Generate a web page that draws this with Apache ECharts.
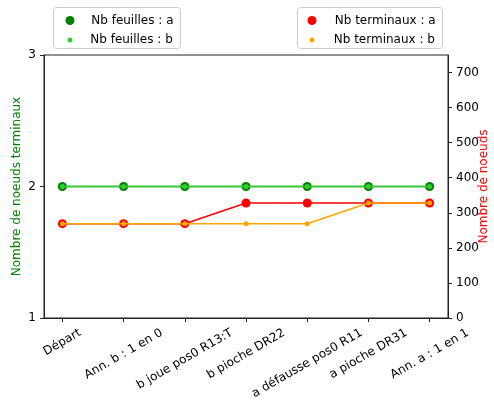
<!DOCTYPE html>
<html>
<head>
<meta charset="utf-8">
<script src="https://cdn.jsdelivr.net/npm/echarts@6/dist/echarts.min.js"></script>
<style>html,body{margin:0;padding:0;background:#fff}#c{width:494px;height:401px}</style>
</head>
<body>
<div id="c"></div>
<script>
const categories = ["Départ", "Ann. b : 1 en 0", "b joue pos0 R13:T", "b pioche DR22", "a défausse pos0 R11", "a pioche DR31", "Ann. a : 1 en 1"];
const feuillesA = [2, 2, 2, 2, 2, 2, 2];
const feuillesB = [2, 2, 2, 2, 2, 2, 2];
const terminauxA = [269, 269, 269, 328, 328, 328, 328];
const terminauxB = [269, 269, 269, 269, 269, 328, 328];
const leftTicks = [1, 2, 3];
const rightTicks = [0, 100, 200, 300, 400, 500, 600, 700];

const FONT = '"DejaVu Sans", sans-serif';
const FS = 12;
const LH = 14;

const ctx = document.createElement('canvas').getContext('2d');
ctx.font = FS + 'px ' + FONT;
const s30 = Math.sin(Math.PI / 6), c30 = Math.cos(Math.PI / 6);
const rich = {};
categories.forEach((c, i) => {
  const L = ctx.measureText(c).width;
  const D = (L * s30 + LH * c30) / 2;
  rich['l' + i] = {
    fontSize: FS, fontFamily: FONT, color: '#000', lineHeight: LH,
    padding: [2 * D * c30, 2 * D * s30, 0, 0]
  };
});

const idx = categories.map((c, i) => i);
const toPts = arr => arr.map((v, i) => [i, v]);
const legText = {fontSize: FS, fontFamily: FONT, color: '#000'};

// plot frame and inner (tick) span
const G = {left: 44, right: 46, top: 55, bottom: 83};
const plotW = 494 - G.left - G.right;
const XMIN = -0.3, XMAX = 6.3;
const innerLeft = G.left + plotW * (0 - XMIN) / (XMAX - XMIN);
const innerRight = G.right + plotW * (XMAX - (categories.length - 1)) / (XMAX - XMIN);

const chart = echarts.init(document.getElementById('c'), null, {renderer: 'canvas'});
chart.setOption({
  animation: false,
  backgroundColor: '#fff',
  textStyle: {fontFamily: FONT},
  grid: [
    {left: G.left, right: G.right, top: G.top, bottom: G.bottom, outerBoundsMode: 'none', containLabel: false, show: true, borderColor: '#222', borderWidth: 1, backgroundColor: 'transparent'},
    {left: innerLeft, right: innerRight, top: G.top, bottom: G.bottom, outerBoundsMode: 'none', containLabel: false, show: false}
  ],
  graphic: [
    {type: 'rect', z: 0, shape: {x: 53.5, y: 7.5, width: 127, height: 41, r: 3}, style: {fill: 'rgba(255,255,255,0.8)', stroke: '#cccccc', lineWidth: 1}},
    {type: 'rect', z: 0, shape: {x: 297.5, y: 7.5, width: 145, height: 41, r: 3}, style: {fill: 'rgba(255,255,255,0.8)', stroke: '#cccccc', lineWidth: 1}}
  ],
  legend: [
    {data: [{name: 'Nb feuilles : a', icon: 'circle'}], left: 65.5, top: 14.5, padding: 0, itemWidth: 32.5, itemHeight: 9, textStyle: legText, z: 10},
    {data: [{name: 'Nb feuilles : b', icon: 'circle'}], left: 67.5, top: 34, padding: 0, itemWidth: 30.5, itemHeight: 5, textStyle: legText, z: 10},
    {data: [{name: 'Nb terminaux : a', icon: 'circle'}], left: 307.5, top: 14.5, padding: 0, itemWidth: 35.5, itemHeight: 9, textStyle: legText, z: 10},
    {data: [{name: 'Nb terminaux : b', icon: 'circle'}], left: 309.5, top: 34, padding: 0, itemWidth: 33.5, itemHeight: 5, textStyle: legText, z: 10}
  ],
  xAxis: [
    {
      type: 'value', gridIndex: 0, min: XMIN, max: XMAX,
      splitLine: {show: false},
      axisLine: {show: true, onZero: false, lineStyle: {color: '#222', width: 1}},
      axisTick: {show: true, length: 4, customValues: idx, lineStyle: {color: '#222'}},
      axisLabel: {show: false}
    },
    {
      type: 'category', gridIndex: 1, data: categories, boundaryGap: false,
      axisLine: {show: false}, axisTick: {show: false}, splitLine: {show: false},
      axisLabel: {
        interval: 0, rotate: 30, align: 'center', verticalAlign: 'middle', margin: 8,
        formatter: (v, i) => '{l' + i + '|' + v + '}',
        rich: rich
      }
    }
  ],
  yAxis: [
    {
      type: 'value', gridIndex: 0, position: 'left', min: 1, max: 3, interval: 1,
      name: 'Nombre de noeuds terminaux', nameLocation: 'middle', nameGap: 21, nameRotate: 90, nameMoveOverlap: false,
      nameTextStyle: {color: 'green', fontSize: FS, fontFamily: FONT},
      splitLine: {show: false},
      axisLine: {show: true, onZero: false, lineStyle: {color: '#222'}},
      axisTick: {show: true, length: 4, customValues: leftTicks, lineStyle: {color: '#222'}},
      axisLabel: {customValues: leftTicks, margin: 8, color: '#000', fontSize: FS, fontFamily: FONT}
    },
    {
      type: 'value', gridIndex: 0, position: 'right', min: 0, max: 750,
      name: 'Nombre de noeuds', nameLocation: 'middle', nameGap: 30, nameRotate: 90, nameMoveOverlap: false,
      nameTextStyle: {color: 'red', fontSize: FS, fontFamily: FONT},
      splitLine: {show: false},
      axisLine: {show: true, onZero: false, lineStyle: {color: '#222'}},
      axisTick: {show: true, length: 4, customValues: rightTicks, lineStyle: {color: '#222'}},
      axisLabel: {customValues: rightTicks, margin: 8, color: '#000', fontSize: FS, fontFamily: FONT}
    },
    {type: 'value', gridIndex: 1, show: false}
  ],
  series: [
    {name: 'Nb feuilles : a', type: 'line', xAxisIndex: 0, yAxisIndex: 0, data: toPts(feuillesA), symbol: 'circle', symbolSize: 9, color: 'green', lineStyle: {width: 1.5, color: 'green'}, itemStyle: {color: 'green'}, z: 2},
    {name: 'Nb feuilles : b', type: 'line', xAxisIndex: 0, yAxisIndex: 0, data: toPts(feuillesB), symbol: 'circle', symbolSize: 5, color: 'limegreen', lineStyle: {width: 1.5, color: 'limegreen'}, itemStyle: {color: 'limegreen'}, z: 3},
    {name: 'Nb terminaux : a', type: 'line', xAxisIndex: 0, yAxisIndex: 1, data: toPts(terminauxA), symbol: 'circle', symbolSize: 9, color: 'red', lineStyle: {width: 1.5, color: 'red'}, itemStyle: {color: 'red'}, z: 4},
    {name: 'Nb terminaux : b', type: 'line', xAxisIndex: 0, yAxisIndex: 1, data: toPts(terminauxB), symbol: 'circle', symbolSize: 5, color: 'orange', lineStyle: {width: 1.5, color: 'orange'}, itemStyle: {color: 'orange'}, z: 5}
  ]
});
</script>
</body>
</html>
